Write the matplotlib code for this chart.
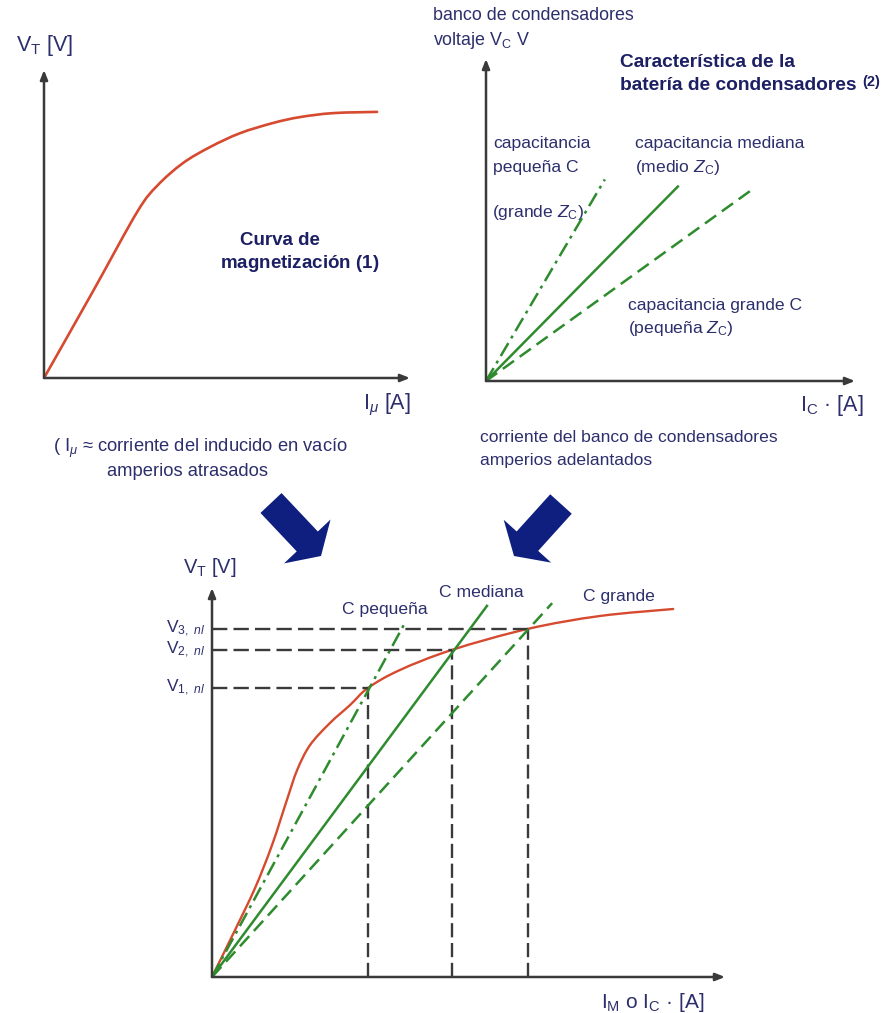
import matplotlib
matplotlib.use("Agg")
import matplotlib.pyplot as plt
import numpy as np
from matplotlib.patches import FancyArrow, PathPatch
from matplotlib.path import Path

plt.rcParams["font.family"] = ["Liberation Sans", "DejaVu Sans"]
plt.rcParams["mathtext.fontset"] = "custom"
plt.rcParams["mathtext.rm"] = "Liberation Sans"
plt.rcParams["mathtext.it"] = "Liberation Sans:italic"
plt.rcParams["mathtext.bf"] = "Liberation Sans:bold"

W, H = 884, 1013

# (1) magnetization curve, arbitrary units 0..10
mag_i = [0.0, 1.35, 2.55, 3.10, 3.80, 4.54, 5.36, 6.26, 6.99, 7.90, 9.10]
mag_v = [0.0, 2.84, 5.40, 6.25, 6.98, 7.50, 7.95, 8.28, 8.47, 8.60, 8.64]

# (2) capacitor bank lines: end points (all start at the origin)
cap_names = ["pequeña", "mediana", "grande"]
cap_end_i = [3.22, 5.20, 7.29]
cap_end_v = [6.26, 6.04, 6.01]

# combined plot: magnetization curve and load lines
comb_i = [0.0, 0.45, 0.84, 1.17, 1.46, 1.66, 1.91, 2.30, 2.69, 3.04, 3.66, 4.68, 6.16, 7.56, 8.99]
comb_v = [0.0, 1.21, 2.29, 3.39, 4.55, 5.32, 5.96, 6.53, 6.99, 7.43, 7.89, 8.41, 8.95, 9.28, 9.46]
line_end_i = [3.76, 5.36, 6.63]
line_end_v = [9.10, 9.54, 9.61]
op_i = [3.04, 4.68, 6.16]
op_v = [7.43, 8.41, 8.95]
op_labels = [r"V$_{1,\ nl}$", r"V$_{2,\ nl}$", r"V$_{3,\ nl}$"]

RED = "#d64a2f"
GREEN = "#2e8b2e"
AXIS = "#3a3a3a"
TXT = "#2c2f6c"
NAVY = "#1c1f63"
ARROW = "#0f1f80"
LINESTYLES = [(0, (6, 2.2, 1.2, 2.2)), "-", (0, (5.5, 2.8))]

fig = plt.figure(figsize=(W / 100, H / 100), dpi=100)
fig.patch.set_facecolor("white")

# overlay in pixel units for labels and block arrows
ov = fig.add_axes([0, 0, 1, 1])
ov.set_xlim(0, W)
ov.set_ylim(H, 0)
ov.axis("off")


def panel(x0, y0, x1, y1):
    """Axes whose origin sits at pixel (x0, y0) and whose arrows end at x1 / y1."""
    ax = fig.add_axes([x0 / W, 1 - y0 / H, (x1 - x0) / W, (y0 - y1) / H])
    ax.set_xlim(0, 10)
    ax.set_ylim(0, 10)
    ax.axis("off")
    ax.patch.set_alpha(0)
    style = "-|>,head_length=0.55,head_width=0.22"
    for tip in [(10, 0), (0, 10)]:
        ax.annotate("", xy=tip, xytext=(0, 0),
                    arrowprops=dict(arrowstyle=style, color=AXIS, lw=1.8,
                                    shrinkA=0, shrinkB=0),
                    annotation_clip=False)
    return ax


def smooth_curve(ax, xs, ys, **kw):
    """Catmull-Rom curve through the given points, drawn as cubic Beziers."""
    p = np.column_stack([xs, ys]).astype(float)
    p = np.vstack([p[0], p, p[-1]])
    verts = [p[1]]
    codes = [Path.MOVETO]
    for k in range(1, len(p) - 2):
        c1 = p[k] + (p[k + 1] - p[k - 1]) / 6
        c2 = p[k + 1] - (p[k + 2] - p[k]) / 6
        verts += [c1, c2, p[k + 1]]
        codes += [Path.CURVE4] * 3
    ax.add_patch(PathPatch(Path(verts, codes), fill=False, capstyle="round", **kw))


def txt(x, y, s, size=12.6, color=TXT, weight="normal", ha="left"):
    ov.text(x, y, s, fontsize=size, color=color, fontweight=weight,
            ha=ha, va="center")


# panel 1: magnetization curve
ax1 = panel(44, 378, 410, 70)
smooth_curve(ax1, mag_i, mag_v, edgecolor=RED, lw=1.9)

txt(16, 45, r"V$_{\rm T}$ [V]", size=15.5)
txt(363, 405, r"I$_\mu$ [A]", size=15.5)
txt(240, 240, "Curva de", size=13.5, color=NAVY, weight="bold")
txt(220, 263, r"magnetización $\mathbf{(1)}$", size=13.5, color=NAVY, weight="bold")
txt(53, 448, "( I$_\\mu$ ≈ corriente del inducido en vacío", size=13.2)
txt(107, 471, "amperios atrasados", size=13.2)

# panel 2: capacitor bank characteristic
ax2 = panel(486, 381, 855, 59)
for ei, ev, ls in zip(cap_end_i, cap_end_v, LINESTYLES):
    ax2.plot([0, ei], [0, ev], color=GREEN, lw=1.8, linestyle=ls)

txt(433, 15, "banco de condensadores", size=12.9)
txt(433, 40, r"voltaje V$_{\rm C}$ V", size=12.9)
txt(620, 62, "Característica de la", size=13.8, color=NAVY, weight="bold")
txt(620, 85, "batería de condensadores", size=13.8, color=NAVY, weight="bold")
txt(862, 82, "(2)", size=10.5, color=NAVY, weight="bold")
txt(493, 143, "capacitancia")
txt(493, 167, "pequeña C")
txt(492, 212, r"(grande $Z_{\rm C}$)")
txt(635, 143, "capacitancia mediana")
txt(635, 167, r"(medio $Z_{\rm C}$)")
txt(628, 305, "capacitancia grande C")
txt(628, 328, r"(pequeña $Z_{\rm C}$)")
txt(800, 405, r"I$_{\rm C}$ · [A]", size=15.5)
txt(480, 437, "corriente del banco de condensadores")
txt(480, 460, "amperios adelantados")

# block arrows between the top panels and the combined plot
for (tx, ty), (hx, hy) in [((271, 503), (321, 556)), ((561, 504), (514, 556))]:
    ov.add_patch(FancyArrow(tx, ty, hx - tx, hy - ty, width=29, head_width=64,
                            head_length=20, length_includes_head=True,
                            color=ARROW, lw=0))

# panel 3: combined plot
ax3 = panel(212, 977, 725, 588)
for vi, vv in zip(op_i, op_v):
    ax3.plot([0, vi], [vv, vv], color=AXIS, lw=1.7, linestyle=(0, (6.5, 2.6)))
    ax3.plot([vi, vi], [0, vv], color=AXIS, lw=1.7, linestyle=(0, (6.0, 2.4)))
for ei, ev, ls in zip(line_end_i, line_end_v, LINESTYLES):
    ax3.plot([0, ei], [0, ev], color=GREEN, lw=1.8, linestyle=ls)
smooth_curve(ax3, comb_i, comb_v, edgecolor=RED, lw=1.7)

txt(183, 567, r"V$_{\rm T}$ [V]", size=14.5)
for vv, lab in zip(op_v, op_labels):
    ov.text(205, 977 - vv * 38.9, lab, fontsize=12.5, color=TXT, ha="right", va="center")
for name, (lx, ly) in zip(cap_names, [(342, 609), (439, 592), (583, 596)]):
    txt(lx, ly, "C " + name)
txt(601, 1002, r"I$_{\rm M}$ o I$_{\rm C}$ · [A]", size=15)

fig.savefig("out.png", dpi=100, facecolor="white")
